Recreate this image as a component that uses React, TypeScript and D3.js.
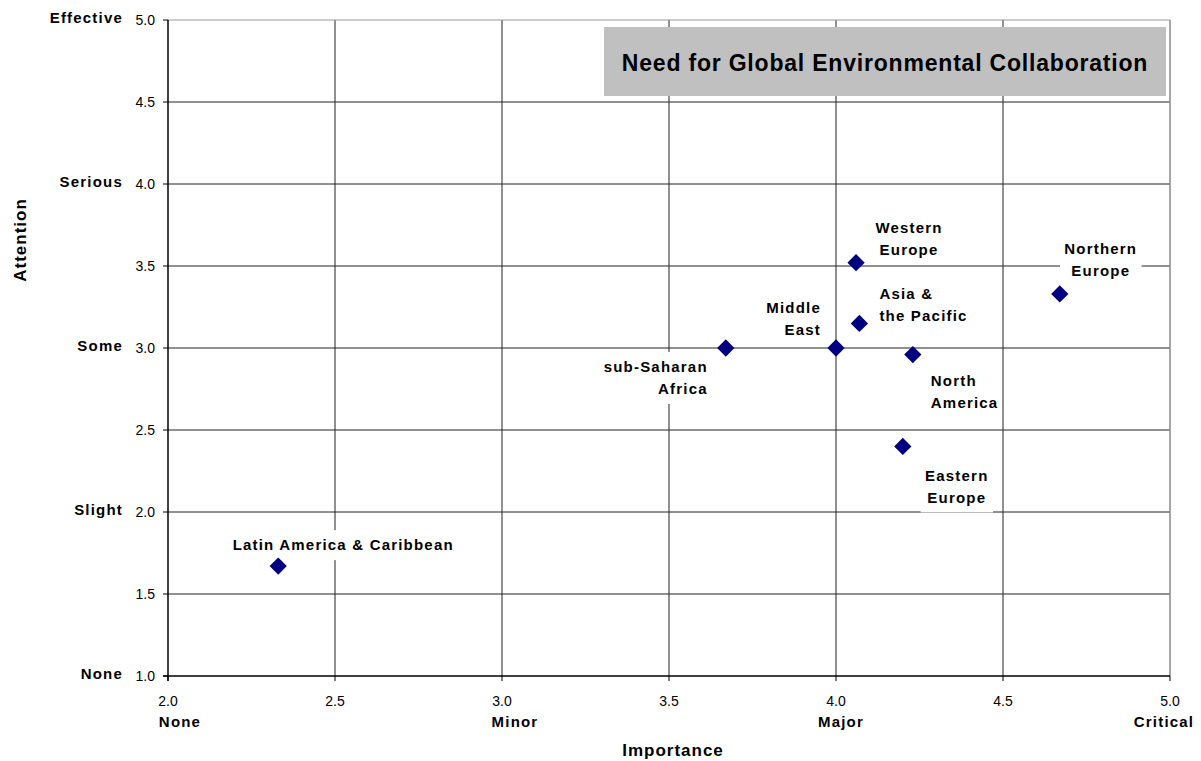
import React from "react";
import * as d3 from "d3";

// Regions plotted by importance (x) and attention (y)
const regions = [
  "Latin America & Caribbean",
  "sub-Saharan Africa",
  "Middle East",
  "Western Europe",
  "Asia & the Pacific",
  "North America",
  "Eastern Europe",
  "Northern Europe",
];
const importance = [2.33, 3.67, 4.0, 4.06, 4.07, 4.23, 4.2, 4.67];
const attention = [1.67, 3.0, 3.0, 3.52, 3.15, 2.96, 2.4, 3.33];

// Label lines for each region
const labelLines: string[][] = [
  ["Latin America & Caribbean"],
  ["sub-Saharan", "Africa"],
  ["Middle", "East"],
  ["Western", "Europe"],
  ["Asia &", "the Pacific"],
  ["North", "America"],
  ["Eastern", "Europe"],
  ["Northern", "Europe"],
];

const xTicks = [2.0, 2.5, 3.0, 3.5, 4.0, 4.5, 5.0];
const yTicks = [1.0, 1.5, 2.0, 2.5, 3.0, 3.5, 4.0, 4.5, 5.0];
const xWords = [
  { v: 2.0, t: "None" },
  { v: 3.0, t: "Minor" },
  { v: 4.0, t: "Major" },
  { v: 5.0, t: "Critical" },
];
const yWords = [
  { v: 5.0, t: "Effective" },
  { v: 4.0, t: "Serious" },
  { v: 3.0, t: "Some" },
  { v: 2.0, t: "Slight" },
  { v: 1.0, t: "None" },
];

const chartTitle = "Need for Global Environmental Collaboration";

// Label placement relative to each marker: offset of the anchor, and text alignment
const labelPlace: { dx: number; dy: number; anchor: "start" | "middle" | "end" }[] = [
  { dx: 65, dy: -21, anchor: "middle" },
  { dx: -18, dy: 19, anchor: "end" },
  { dx: -15, dy: -40, anchor: "end" },
  { dx: 53, dy: -35, anchor: "middle" },
  { dx: 20, dy: -30, anchor: "start" },
  { dx: 18, dy: 26, anchor: "start" },
  { dx: 54, dy: 29, anchor: "middle" },
  { dx: 41, dy: -45, anchor: "middle" },
];

const W = 1201;
const H = 761;
const M = { left: 168, right: 1170, top: 20, bottom: 676 };
const FONT = "Arial, 'Liberation Sans', sans-serif";

export default function App() {
  const x = d3.scaleLinear().domain([2, 5]).range([M.left, M.right]);
  const y = d3.scaleLinear().domain([1, 5]).range([M.bottom, M.top]);
  const diamond = d3.symbol().type(d3.symbolDiamond2).size(190)();
  const lineH = 22;
  const labelFont = 15;
  const labelSpacing = 1.2;

  return (
    <svg
      width={W}
      height={H}
      style={{ position: "absolute", left: 0, top: 0, background: "#fff" }}
      fontFamily={FONT}
    >
      {/* grid */}
      {xTicks.slice(1, -1).map((t) => (
        <line key={"gx" + t} x1={x(t)} x2={x(t)} y1={M.top} y2={M.bottom} stroke="#222" strokeWidth={1} />
      ))}
      {yTicks.slice(1, -1).map((t) => (
        <line key={"gy" + t} x1={M.left} x2={M.right} y1={y(t)} y2={y(t)} stroke="#222" strokeWidth={1} />
      ))}
      {/* frame */}
      <line x1={M.left} x2={M.right} y1={M.top} y2={M.top} stroke="#999" />
      <line x1={M.right} x2={M.right} y1={M.top} y2={M.bottom} stroke="#888" strokeWidth={1.5} />
      <line x1={M.left} x2={M.left} y1={M.top} y2={M.bottom + 5} stroke="#000" strokeWidth={1.5} />
      <line x1={M.left - 5} x2={M.right} y1={M.bottom} y2={M.bottom} stroke="#000" strokeWidth={1.5} />

      {/* y ticks */}
      {yTicks.map((t) => (
        <g key={"yt" + t}>
          <line x1={M.left - 5} x2={M.left} y1={y(t)} y2={y(t)} stroke="#000" />
          <text x={M.left - 13} y={y(t)} dy="0.35em" textAnchor="end" fontSize={14} fill="#000">
            {t.toFixed(1)}
          </text>
        </g>
      ))}
      {yWords.map((w) => (
        <text
          key={"yw" + w.t}
          x={123}
          y={y(w.v) - 2}
          dy="0.35em"
          textAnchor="end"
          fontSize={labelFont}
          fontWeight="bold"
          letterSpacing={labelSpacing}
          fill="#000"
        >
          {w.t}
        </text>
      ))}

      {/* x ticks */}
      {xTicks.map((t) => (
        <g key={"xt" + t}>
          <line x1={x(t)} x2={x(t)} y1={M.bottom} y2={M.bottom + 5} stroke="#000" />
          <text x={x(t)} y={706} textAnchor="middle" fontSize={14} fill="#000">
            {t.toFixed(1)}
          </text>
        </g>
      ))}
      {xWords.map((w, i) => (
        <text
          key={"xw" + w.t}
          x={x(w.v) + [12, 13, 5, -6][i]}
          y={727}
          textAnchor="middle"
          fontSize={labelFont}
          fontWeight="bold"
          letterSpacing={labelSpacing}
          fill="#000"
        >
          {w.t}
        </text>
      ))}

      {/* axis titles */}
      <text x={673} y={756} textAnchor="middle" fontSize={17} fontWeight="bold" letterSpacing={1} fill="#000">
        Importance
      </text>
      <text
        transform={`translate(26,${240}) rotate(-90)`}
        textAnchor="middle"
        fontSize={17}
        fontWeight="bold"
        letterSpacing={1}
        fill="#000"
      >
        Attention
      </text>

      {/* title box */}
      <rect x={604} y={27} width={562} height={69} fill="#c0c0c0" />
      <text
        x={885}
        y={63}
        dy="0.35em"
        textAnchor="middle"
        fontSize={23}
        fontWeight="bold"
        letterSpacing={0.8}
        fill="#000"
      >
        {chartTitle}
      </text>

      {/* labels with white backing */}
      {regions.map((r, i) => {
        const px = x(importance[i]);
        const py = y(attention[i]);
        const p = labelPlace[i];
        const lines = labelLines[i];
        const ax = px + p.dx;
        const ay = py + p.dy;
        const widths = lines.map((l) => l.length * 9.2);
        const maxW = Math.max(...widths);
        const bx = p.anchor === "start" ? ax - 4 : p.anchor === "end" ? ax - maxW - 4 : ax - maxW / 2 - 4;
        return (
          <g key={"lab" + r}>
            <rect x={bx} y={ay - 15} width={maxW + 8} height={lines.length * lineH + 8} fill="#fff" />
            {lines.map((l, j) => (
              <text
                key={j}
                x={ax}
                y={ay + j * lineH}
                dy="0.35em"
                textAnchor={p.anchor}
                fontSize={labelFont}
                fontWeight="bold"
                letterSpacing={labelSpacing}
                fill="#000"
              >
                {l}
              </text>
            ))}
          </g>
        );
      })}

      {/* markers */}
      {regions.map((r, i) => (
        <path
          key={"pt" + r}
          d={diamond as string}
          transform={`translate(${x(importance[i])},${y(attention[i])})`}
          fill="#000080"
        />
      ))}
    </svg>
  );
}
